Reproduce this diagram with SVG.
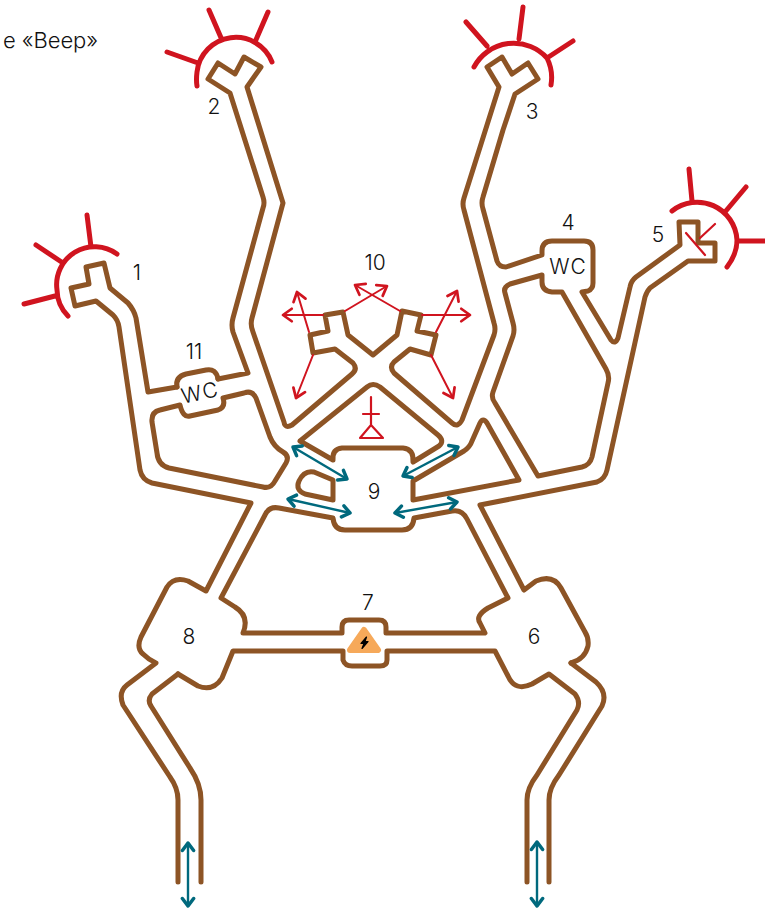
<svg xmlns="http://www.w3.org/2000/svg" width="765" height="908" viewBox="0 0 765 908">
<style>
.w{fill:none;stroke:#8D5425;stroke-width:5;stroke-linecap:round;stroke-linejoin:round}
.r{fill:none;stroke:#D0141F;stroke-width:5;stroke-linecap:round}
.t{fill:none;stroke:#D0141F;stroke-width:2;stroke-linecap:round;marker-end:url(#ra)}
.s{fill:none;stroke:#D0141F;stroke-width:2.2;stroke-linecap:round;stroke-linejoin:round}
.b{fill:none;stroke:#00697D;stroke-width:2.4;marker-end:url(#ba);marker-start:url(#bs)}
text{font-family:"Inter","Liberation Sans",sans-serif;font-weight:300;fill:#111;font-size:21px;text-anchor:middle}
</style>
<defs>
<marker id="ra" markerUnits="userSpaceOnUse" markerWidth="20" markerHeight="20" viewBox="-12 -8 16 16" refX="0" refY="0" orient="auto"><path d="M-7,-5 L0,0 L-7,5" fill="none" stroke="#D0141F" stroke-width="2.2" stroke-linecap="round" stroke-linejoin="round"/></marker>
<marker id="ba" markerUnits="userSpaceOnUse" markerWidth="20" markerHeight="20" viewBox="-12 -8 16 16" refX="0" refY="0" orient="auto"><path d="M-6,-4.5 L0,0 L-6,4.5" fill="none" stroke="#00697D" stroke-width="2.8" stroke-linecap="round" stroke-linejoin="round"/></marker>
<marker id="bs" markerUnits="userSpaceOnUse" markerWidth="20" markerHeight="20" viewBox="-4 -8 16 16" refX="0" refY="0" orient="auto"><path d="M6,-4.5 L0,0 L6,4.5" fill="none" stroke="#00697D" stroke-width="2.8" stroke-linecap="round" stroke-linejoin="round"/></marker>
</defs>
<text x="3" y="48" textLength="95" style="text-anchor:start;font-size:22px">е «Веер»</text>
<g id="walls">
<path class="w" d="M177,387 L148,392 L136,318 Q134,310 128,303 L110,288 L104,263 L86,267 L89,284 L71,288 L75,306 L96,301 L113,315 Q118,320 119,327 L140,470 Q142,480 152,483 L251,503 L206,591 L188,581 Q174,576 167,587 L141,637 Q136,648 143,654 Q149,660 156,663 L127,685 Q118,692 123,705 L170,777 Q178,788 178,800 L178,882"/>
<path class="w" d="M178,674 L198,686 Q213,692 222,678 L233,651 L343,651 L343,660 Q345,666 352,666 L380,666 Q387,666 387,660 L387,651 L495,651 L508,676 Q515,692 532,684 L549,674 L575,694 Q581,702 577,710 L537,775 Q527,788 527,800 L527,882"/>
<path class="w" d="M178,674 L152,694 Q147,700 151,706 L190,768 Q201,784 201,800 L201,882"/>
<path class="w" d="M571,663 L596,682 Q608,693 602,706 L559,775 Q549,788 549,800 L549,882"/>
<path class="w" d="M571,663 Q585,659 588,646 Q589,638 585,632 L561,588 Q553,574 536,581 L524,590 L480,505 L597,482 Q605,479 607,470 L645,297 Q647,291 650,288 L688,261 L715,261 L715,243 L698,243 L698,222 L679,222 L680,245 L636,277 Q631,281 630,287 L618,338 Q615,345 611,340 L582,292 L588,291 Q593,289 593,283 L593,250 Q593,241 584,241 L552,241 Q542,241 542,251 L542,255 L506,267 Q499,267 497,261 L483,209 Q481,203 483,197 L503,130 L515,94 L538,79 L528,63 L512,74 L502,57 L487,67 L499,87 L464,198 Q462,204 464,210 L494,323 Q496,329 494,335 L462,420 Q458,428 452,423 L394,373 Q389,367 394,362 L410,349 L431,355 L436,335 L417,331 L421,315 L402,311 L397,335 L373,355 L348,335 L343,312 L325,315 L328,331 L310,335 L313,353 L335,349 L353,363 Q358,369 352,374 L292,425 Q285,429 284,422 L253,332 Q250,325 252,318 L283,203 L247,87 L261,67 L244,57 L235,74 L218,63 L208,79 L230,93 L263,197 Q265,203 263,208 L233,318 Q231,325 233,332 L248,373 L218,379"/>
<path class="w" d="M218,379 Q216,368 206,370 L186,374 Q175,377 177,387"/>
<path class="w" d="M223,398 Q226,407 218,410 L190,416 Q183,418 180,405 L160,410 Q151,412 152,422 L157,453 Q158,465 169,468 L263,487 Q271,489 275,481 L286,463 Q290,456 283,452 Q274,447 270,437 L256,398 Q252,390 244,393 Z"/>
<path class="w" d="M300,441 L367,387 Q373,382 380,387 L438,435 Q445,441 439,446 L413,462 Q414,449 403,448 L342,448 Q332,449 333,460 Z"/>
<path class="w" d="M333,500 L305,494 Q295,490 299,481 Q304,470 314,472 L333,480 Z"/>
<path class="w" d="M221,598 L265,515 Q269,506 279,508 L333,518 Q334,530 345,530 L402,530 Q413,530 414,518 L452,511 Q462,509 467,519 L508,598 L488,608 Q475,616 480,623 L485,633 L386,633 L386,627 Q386,620 379,620 L349,620 Q342,620 342,627 L342,633 L243,633 Q250,616 235,607 Z"/>
<path class="w" d="M413,500 L519,480 L487,423 Q483,417 480,423 L472,441 Q470,447 464,451 L413,481 Z"/>
<path class="w" d="M538,476 L582,467 Q590,465 592,457 L608,383 Q610,376 606,369 L562,292 L552,292 Q542,291 542,282 L542,275 L510,284 Q503,287 505,293 L513,323 Q515,330 513,336 L493,392 Q491,398 495,403 Z"/>
</g>
<g id="lights">
<path class="r" d="M117,254 A38,38 0 0 0 57,290 A38,38 0 0 0 68,316 M87,215 L91,247 M36,245 L63,263 M24,304 L55,296"/>
<path class="r" d="M272,62 A39,39 0 0 0 197,72 Q196,80 197,86 M209,10 L222,40 M268,12 L255,42 M167,52 L198,63"/>
<path class="r" d="M474,67 A45,45 0 0 1 547,58 A44,44 0 0 1 551,85 M466,22 L487,46 M523,7 L519,39 M573,41 L547,58"/>
<path class="r" d="M672,211 A40,40 0 0 1 737,240 Q737,254 727,267 M689,169 L692,201 M746,187 L725,212 M765,241 L737,241"/>
</g>
<g id="room-10-arrows">
<path class="t" d="M323,315 L283,315"/><path class="t" d="M309,332 L297,292"/><path class="t" d="M313,355 L296,398"/>
<path class="t" d="M345,311 L387,286"/><path class="t" d="M400,311 L355,285"/><path class="t" d="M422,315 L470,315"/>
<path class="t" d="M436,332 L457,291"/><path class="t" d="M431,355 L453,398"/>
<path class="s" d="M371,397 L371,425 M363,414 L379,414 M371,425 L360,438 L383,438 Z"/>
</g>
<g id="room-5-mark">
<path class="s" d="M715,224 L700,238 M686,233 L705,255"/>
</g>
<g id="flows">
<path class="b" d="M293,447 L347,479"/><path class="b" d="M288,499 L350,513"/><path class="b" d="M403,476 L458,447"/><path class="b" d="M395,513 L457,502"/>
<path class="b" d="M188,843 L188,906"/><path class="b" d="M537,842 L537,906"/>
</g>
<g id="room-7-icon">
<path d="M364,630 L378,650 L350,650 Z" fill="#F6A95A" stroke="#F6A95A" stroke-width="6" stroke-linejoin="round"/>
<path d="M366.5,637 L361,643.5 L364,643.5 L362,648.5 L368,641.5 L365,641.5 Z" fill="#000" stroke="#000" stroke-width="1.2" stroke-linejoin="round"/>
</g>
<g id="labels">
<text x="137" y="280">1</text><text x="194" y="359">11</text><text x="214" y="114">2</text><text x="532" y="119">3</text><text x="568" y="230">4</text><text x="658" y="242">5</text><text x="534" y="644">6</text><text x="368" y="610">7</text><text x="189" y="644">8</text><text x="374" y="499">9</text><text x="375" y="270">10</text>
<text x="568" y="274" style="letter-spacing:1px">WC</text>
<text x="200" y="400" transform="rotate(-12 200 393)" style="letter-spacing:1px">WC</text>
</g>
</svg>
